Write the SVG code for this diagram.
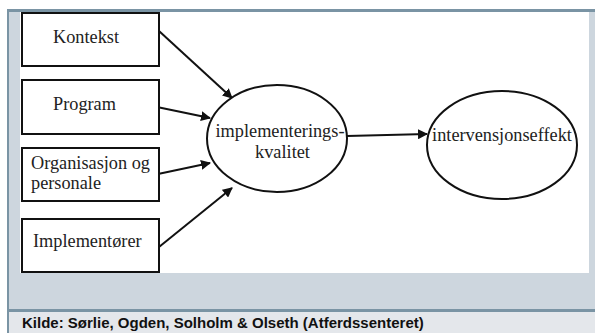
<svg xmlns="http://www.w3.org/2000/svg" width="595" height="333" viewBox="0 0 595 333">
<style>
.box{fill:#fff;stroke:#111;stroke-width:2}
.ell{fill:#fff;stroke:#111;stroke-width:2}
.lbl{font-family:"Liberation Serif","Times New Roman",serif;font-size:18.3px;fill:#222}
.cap{font-family:"Liberation Sans",Arial,sans-serif;font-size:15px;font-weight:bold;fill:#111}
.con{stroke:#111;stroke-width:2;fill:none;marker-end:url(#ah)}
</style>
<defs>
<marker id="ah" viewBox="0 0 10 10" refX="9" refY="5" markerWidth="5" markerHeight="5" orient="auto" markerUnits="strokeWidth">
<path d="M0,0 L10,5 L0,10 z" fill="#111"/>
</marker>
</defs>
<rect x="0" y="0" width="595" height="333" fill="#fff"/>
<rect x="7" y="9" width="588" height="324" fill="#cdd6de"/>
<rect x="9" y="312" width="586" height="21" fill="#e4e7eb"/>
<rect x="7" y="9" width="588" height="3" fill="#7a94a4"/>
<rect x="7" y="9" width="2" height="324" fill="#7a94a4"/>
<rect x="9" y="309" width="586" height="3" fill="#7a94a4"/>
<rect x="20" y="12" width="569" height="261" fill="#fff"/>
<g id="connectors">
<line class="con" x1="159" y1="31" x2="232" y2="98"/>
<line class="con" x1="157" y1="107" x2="210" y2="118"/>
<line class="con" x1="158" y1="174" x2="210" y2="163"/>
<line class="con" x1="159" y1="247" x2="232" y2="188"/>
<line class="con" x1="347" y1="136" x2="427" y2="134"/>
</g>
<g id="kontekst"><rect class="box" x="22" y="13" width="137" height="53"/><text class="lbl" x="53" y="43">Kontekst</text></g>
<g id="program"><rect class="box" x="22" y="80" width="137" height="54"/><text class="lbl" x="53" y="110">Program</text></g>
<g id="organisasjon"><rect class="box" x="22" y="148" width="137" height="53"/><text class="lbl" x="31" y="169">Organisasjon og</text><text class="lbl" x="31" y="189">personale</text></g>
<g id="implementorer"><rect class="box" x="22" y="219" width="137" height="53"/><text class="lbl" x="33" y="247">Implementører</text></g>
<g id="kvalitet"><ellipse class="ell" cx="277" cy="138.5" rx="70" ry="53.5"/><text class="lbl" x="280" y="137" text-anchor="middle">implementerings-</text><text class="lbl" x="282.5" y="158" text-anchor="middle">kvalitet</text></g>
<g id="effekt"><ellipse class="ell" cx="502" cy="145" rx="75" ry="54"/><text class="lbl" x="502" y="141" text-anchor="middle">intervensjonseffekt</text></g>
<text class="cap" x="22" y="328">Kilde: Sørlie, Ogden, Solholm &amp; Olseth (Atferdssenteret)</text>
</svg>
